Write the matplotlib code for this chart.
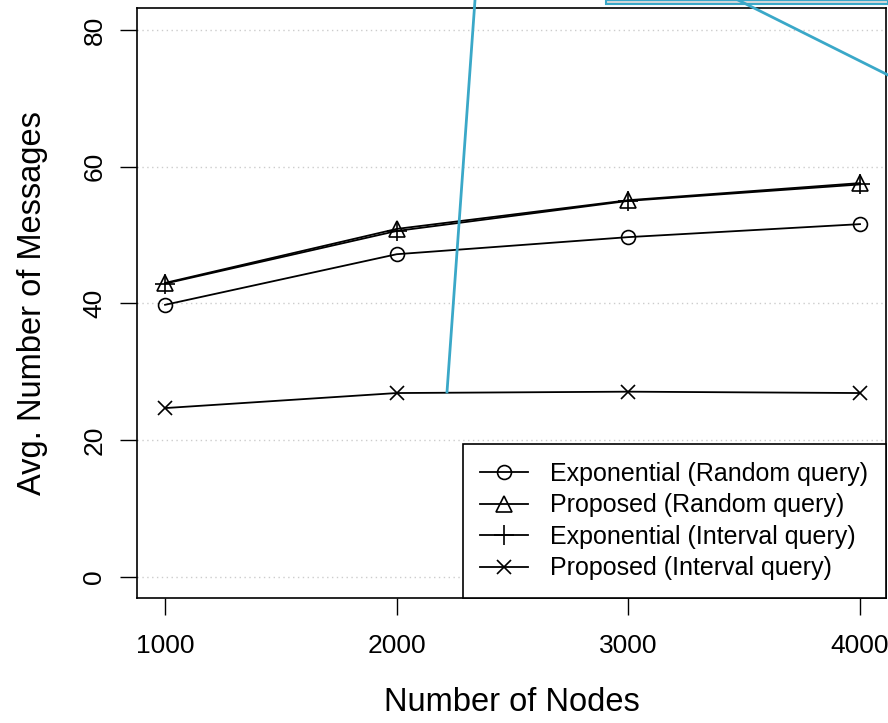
import numpy as np
import matplotlib
matplotlib.use('Agg')
import matplotlib.pyplot as plt
from matplotlib.lines import Line2D
from matplotlib.patches import Rectangle

plt.rcParams['font.family'] = ['Liberation Sans', 'DejaVu Sans']

nodes = [1000, 2000, 3000, 4000]
exp_random = [39.8, 47.2, 49.7, 51.6]
prop_random = [43.0, 50.9, 55.1, 57.6]
exp_interval = [42.9, 50.6, 55.0, 57.4]
prop_interval = [24.7, 26.9, 27.1, 26.9]
labels = ['Exponential (Random query)', 'Proposed (Random query)',
          'Exponential (Interval query)', 'Proposed (Interval query)']
yticks = [0, 20, 40, 60, 80]

# teal callout lines overlaid on the screenshot (figure fraction)
callout_x = [[447 / 888, 475 / 888], [738 / 888, 888 / 888]]
callout_y = [[1 - 392 / 723, 1.0], [1.0, 1 - 75 / 723]]

fig = plt.figure(figsize=(8.88, 7.23), dpi=100)
ax = fig.add_axes([0.1543, 0.1729, 0.9977 - 0.1543, 0.9889 - 0.1729])

for y in yticks:
    ax.axhline(y, color='#cccccc', linestyle=(0, (1, 2.5)), linewidth=1, zorder=0)

kw = dict(color='black', linewidth=1.3, markerfacecolor='none', markeredgecolor='black',
          markeredgewidth=1.2)
ax.plot(nodes, exp_random, marker='o', markersize=10, label=labels[0], **kw)
ax.plot(nodes, prop_random, marker='^', markersize=11, label=labels[1], **kw)
ax.plot(nodes, exp_interval, marker='+', markersize=14, label=labels[2], **kw)
ax.plot(nodes, prop_interval, marker='x', markersize=10, label=labels[3], **kw)

ax.set_xlim(879, 4112)
ax.set_ylim(-3.07, 83.2)
ax.set_xticks(nodes)
ax.set_yticks(yticks)
ax.set_yticklabels([str(v) for v in yticks], rotation=90, va='center')
ax.tick_params(direction='out', length=12, width=1, labelsize=19, pad=14)
ax.tick_params(axis='y', pad=10)
for s in ax.spines.values():
    s.set_linewidth(1.2)

ax.set_xlabel('Number of Nodes', fontsize=23.5, labelpad=21)
ax.set_ylabel('Avg. Number of Messages', fontsize=23.5, labelpad=25)

leg = ax.legend(loc='lower right', fontsize=18, frameon=True, fancybox=False,
                edgecolor='black', framealpha=1, handlelength=1.9, handletextpad=0.9,
                labelspacing=0.3, borderaxespad=0, borderpad=0.7)
leg.get_frame().set_linewidth(1.2)

for xs, ys in zip(callout_x, callout_y):
    fig.add_artist(Line2D(xs, ys, transform=fig.transFigure, color='#3aa8c8', linewidth=2))
fig.add_artist(Rectangle((606 / 888, 1 - 4 / 723), 282 / 888, 4 / 723, transform=fig.transFigure,
                         facecolor='#d9d9d9', edgecolor='#3aa8c8', linewidth=1.5))

fig.savefig('out.png', dpi=100)
